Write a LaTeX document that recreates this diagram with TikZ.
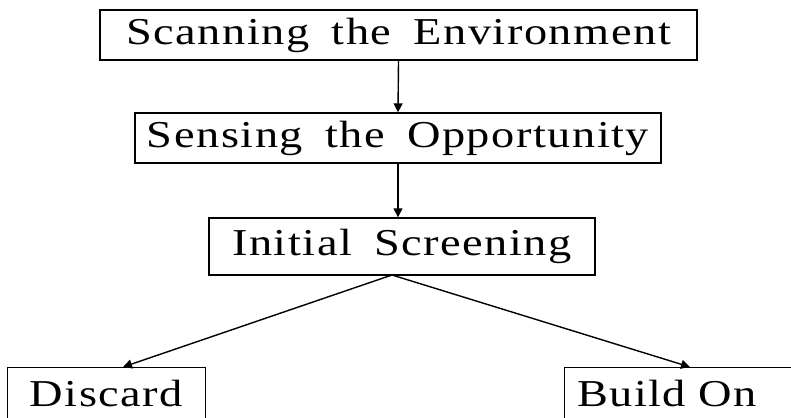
\documentclass[tikz,border=0pt]{standalone}
\usepackage{fontspec}
\setmainfont{Liberation Serif}[LetterSpace=4,FakeStretch=1.22,WordSpace=1.7]
\usetikzlibrary{arrows.meta}
\begin{document}
\begin{tikzpicture}[x=1pt,y=-1pt,
  box/.style={draw=black,line width=1.4pt,rectangle,inner sep=0pt,font=\fontsize{38}{44}\selectfont},
  openbox/.style={box,draw=none},
  edge3/.style={draw=black,line width=1.4pt},
  conn/.style={draw=black,line width=1.4pt,-{Triangle[width=9pt,length=9pt]}}]
\useasboundingbox (0,0) rectangle (791,417);
\clip (0,0) rectangle (791,417);
\fill[white] (0,0) rectangle (791,417);
\node[box,minimum width=597pt,minimum height=50pt] (b1) at (398.5,35) {Scanning the Environment};
\node[box,minimum width=526pt,minimum height=50pt] (b2) at (398,138) {Sensing the Opportunity};
\node[box,minimum width=386pt,minimum height=57pt] (b3) at (402,246.5) {Initial Screening};
\node[openbox,minimum width=197pt,minimum height=50pt] (d) at (106.5,393) {Discard};
\node[openbox,minimum width=236pt,minimum height=50pt,text width=212pt,align=left] (bo) at (683,393) {Build On};
\draw[edge3] (d.south west) -- (d.north west) -- (d.north east) -- (d.south east);
\draw[edge3] (bo.south west) -- (bo.north west) -- (bo.north east);
\coordinate (split) at (392,275);
\coordinate (dtop) at (123,367);
\coordinate (btop) at (690,367);
\draw[conn] (b1.south) -- (b2.north);
\draw[conn] (b2.south) -- (b3.north -| b2.south);
\draw[conn] (split) -- (dtop);
\draw[conn] (split) -- (btop);
\end{tikzpicture}
\end{document}
